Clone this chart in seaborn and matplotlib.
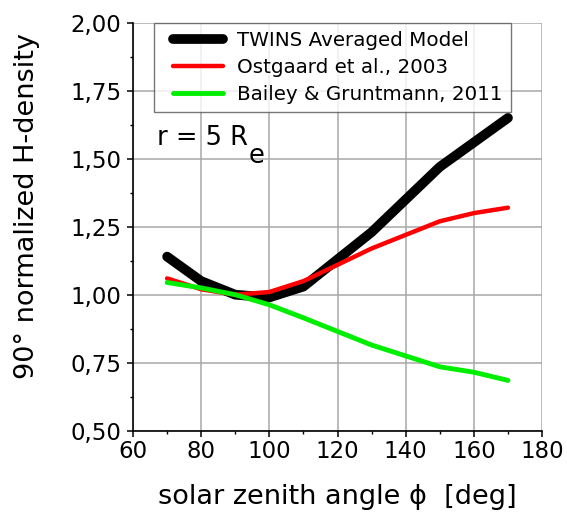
import numpy as np
import pandas as pd
import matplotlib
matplotlib.use("Agg")
import matplotlib.pyplot as plt
import seaborn as sns
from matplotlib.ticker import MultipleLocator, FuncFormatter
from matplotlib.lines import Line2D
from matplotlib.legend_handler import HandlerLine2D

angles = [70, 80, 90, 100, 110, 120, 130, 140, 150, 160, 170]
twins = [1.14, 1.05, 1.00, 0.99, 1.03, 1.13, 1.23, 1.35, 1.47, 1.56, 1.65]
ostgaard = [1.06, 1.02, 1.00, 1.01, 1.05, 1.11, 1.17, 1.22, 1.27, 1.30, 1.32]
bailey = [1.045, 1.025, 1.00, 0.963, 0.915, 0.865, 0.815, 0.775, 0.735, 0.715, 0.685]
series_names = ["TWINS Averaged Model", "Ostgaard et al., 2003", "Bailey & Gruntmann, 2011"]

df = pd.concat([
    pd.DataFrame({"angle": angles, "value": v, "model": n})
    for v, n in zip([twins, ostgaard, bailey], series_names)
])

sns.set_style("white")
plt.rcParams["font.family"] = ["DejaVu Sans"]
plt.rcParams["text.color"] = "black"
plt.rcParams["axes.labelcolor"] = "black"
plt.rcParams["xtick.color"] = "black"
plt.rcParams["ytick.color"] = "black"

fig = plt.figure(figsize=(5.67, 5.21), dpi=100)
ax = fig.add_axes([0.2346, 0.1733, 0.7214, 0.7831])

palette = {series_names[0]: "#000000", series_names[1]: "#ff0000", series_names[2]: "#00ee00"}
sns.lineplot(data=df, x="angle", y="value", hue="model", palette=palette, ax=ax, legend=False)
widths = [7.0, 3.2, 3.5]
for line, w in zip(ax.get_lines(), widths):
    line.set_linewidth(w)
    line.set_solid_capstyle("round")
    line.set_solid_joinstyle("round")

ax.set_xlim(60, 180)
ax.set_ylim(0.5, 2.0)
ax.xaxis.set_major_locator(MultipleLocator(20))
ax.xaxis.set_minor_locator(MultipleLocator(10))
ax.yaxis.set_major_locator(MultipleLocator(0.25))
ax.yaxis.set_minor_locator(MultipleLocator(0.125))
ax.yaxis.set_major_formatter(FuncFormatter(lambda v, p: f"{v:.2f}".replace(".", ",")))
ax.grid(True, which="major", color="#a8a8a8", linewidth=1.1)
ax.set_axisbelow(True)
for s in ["top", "right"]:
    ax.spines[s].set_visible(False)
for s in ["left", "bottom"]:
    ax.spines[s].set_color("black")
    ax.spines[s].set_linewidth(1.2)
ax.tick_params(which="major", direction="out", length=4.5, width=1.1, color="black",
               labelcolor="black", labelsize=16.5, bottom=True, left=True)
ax.tick_params(axis="x", which="major", pad=2)
ax.tick_params(axis="y", which="major", pad=4)
ax.tick_params(which="minor", direction="out", length=2.5, width=1.0, color="black",
               bottom=True, left=True)

ax.set_xlabel("solar zenith angle ϕ  [deg]", fontsize=19.5, labelpad=15, color="black")
ax.set_ylabel("90° normalized H-density", fontsize=19.5, color="black")
ax.yaxis.set_label_coords(-0.228, 0.551)

handles = ax.get_lines()
leg = ax.legend(handles, series_names, loc="upper left", bbox_to_anchor=(0.052, 1.0),
                fontsize=14.3, frameon=True, fancybox=False, edgecolor="#555555",
                handlelength=3.05, borderpad=0.42, labelspacing=0.4, handletextpad=0.7,
                borderaxespad=0.0, labelcolor="black",
                handler_map={Line2D: HandlerLine2D(xpad=0.5)})
leg.get_frame().set_linewidth(1.0)

t = ax.text(0.059, 0.700, "r = 5 R", transform=ax.transAxes, color="black",
            fontsize=18.5, va="baseline", ha="left")
ax.annotate("e", xy=(1, 0), xycoords=t, xytext=(0.5, -8.5), textcoords="offset points",
            fontsize=18.5, va="baseline", ha="left", color="black")

fig.savefig("out.png", dpi=100)
